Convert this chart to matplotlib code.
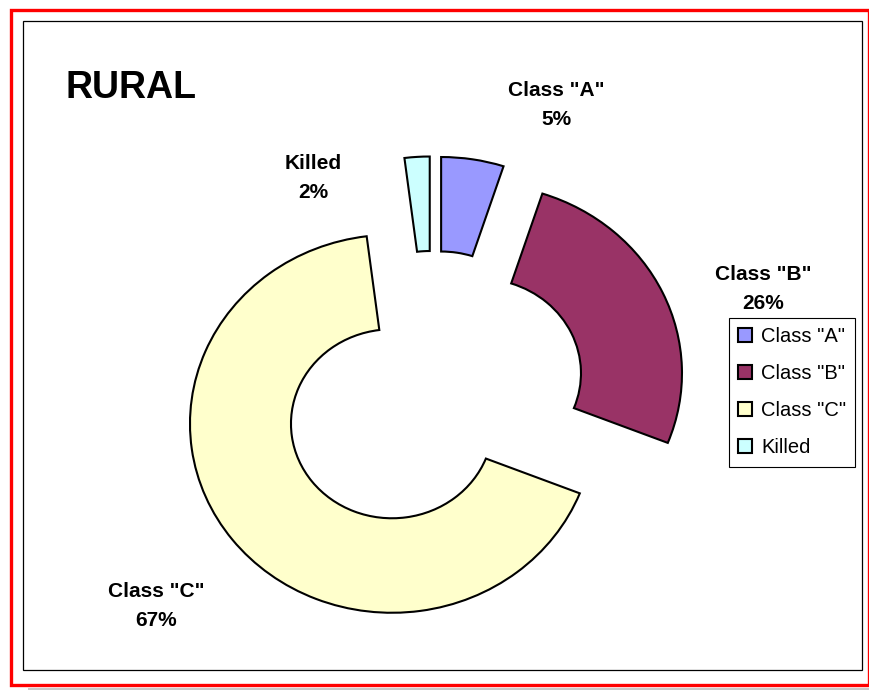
import matplotlib.pyplot as plt
from matplotlib.patches import Rectangle

# data
labels = ['Class "A"', 'Class "B"', 'Class "C"', 'Killed']
values = [5, 26, 67, 2]
pct_labels = ['5%', '26%', '67%', '2%']
colors = ['#9999FF', '#993366', '#FFFFCC', '#CCFFFF']
title = 'RURAL'

W, H = 870, 690
plt.rcParams['font.family'] = ['Liberation Sans', 'DejaVu Sans']
fig = plt.figure(figsize=(W / 100, H / 100), dpi=100)


def px(x, y):
    # pixel (from top-left) -> figure fraction
    return x / W, 1 - y / H


# donut, slightly wider than tall like the excel original
ax = fig.add_axes([0, 0, 1, 1])
wedges, _ = ax.pie(values, colors=colors, startangle=90, counterclock=False,
                   explode=[0.257] * len(values),
                   wedgeprops=dict(width=0.5, edgecolor='black', linewidth=1.5))
cx, cy, rx, ry = 433, 394, 202, 189
ax.set_xlim(-cx / rx, (W - cx) / rx)
ax.set_ylim(-(H - cy) / ry, cy / ry)
ax.set_aspect('auto')
ax.axis('off')

# data labels
label_pos = [(556, 105), (763, 289), (156, 606), (313, 178)]
for name, pct, (x, y) in zip(labels, pct_labels, label_pos):
    fig.text(*px(x, y), name + '\n' + pct, ha='center', va='center',
             fontsize=15, fontweight='bold', linespacing=1.7,
             multialignment='center')

fig.text(*px(66, 98), title, ha='left', va='baseline', fontsize=27,
         fontweight='bold')

leg = ax.legend(wedges, labels, loc='upper left',
                bbox_to_anchor=px(729, 318), bbox_transform=fig.transFigure,
                fontsize=14.5, frameon=True, fancybox=False, edgecolor='black',
                framealpha=1, borderpad=0.45, labelspacing=0.9,
                handlelength=0.7, handleheight=0.7, handletextpad=0.45,
                borderaxespad=0)
leg.get_frame().set_linewidth(0.8)

# outer red border and inner plot frame
x0, y0 = px(11, 685)
fig.patches.append(Rectangle((x0, y0), (869 - 11) / W, 675 / H,
                             transform=fig.transFigure, fill=False,
                             edgecolor='#FF0000', linewidth=2.4))
x0, y0 = px(23, 670)
fig.patches.append(Rectangle((x0, y0), (862 - 23) / W, 649 / H,
                             transform=fig.transFigure, fill=False,
                             edgecolor='black', linewidth=0.9))
x0, y0 = px(28, 690)
fig.patches.append(Rectangle((x0, y0), (W - 28) / W, 2.5 / H,
                             transform=fig.transFigure, color='#C8C8C8',
                             linewidth=0))

fig.savefig('out.png', dpi=100)
